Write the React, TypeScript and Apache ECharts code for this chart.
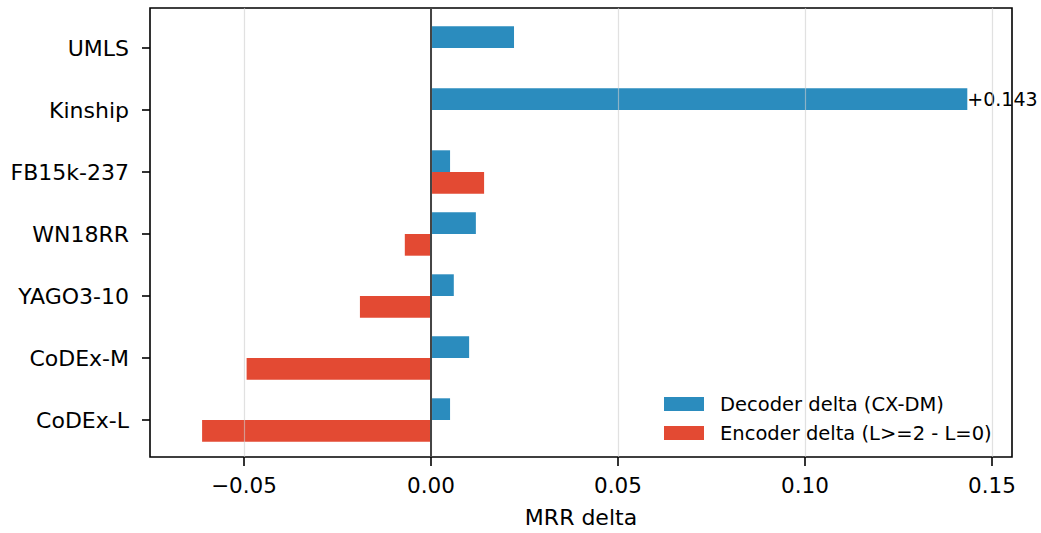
import { useEffect, useRef } from 'react';
import * as echarts from 'echarts';

const categories = ['UMLS', 'Kinship', 'FB15k-237', 'WN18RR', 'YAGO3-10', 'CoDEx-M', 'CoDEx-L'];
const decoderDelta = [0.0222, 0.1434, 0.0051, 0.012, 0.0061, 0.0102, 0.0051];
const encoderDelta = [null, null, 0.0142, -0.007, -0.019, -0.0493, -0.0612];
const xTicks = [-0.05, 0, 0.05, 0.1, 0.15];
const xMin = -0.07513;
const xMax = 0.15535;
const labelledCategory = 'Kinship';

const FONT = 'DejaVu Sans';
const BLUE = '#2b8cbe';
const RED = '#e34a33';

const fmt = (v: number) => {
  const s = Math.abs(v).toFixed(2);
  return v < -1e-9 ? '\u2212' + s : s;
};

export default function App() {
  const ref = useRef<HTMLDivElement>(null);
  useEffect(() => {
    if (!ref.current) return;
    const chart = echarts.init(ref.current, null, { renderer: 'svg' });
    const L = 150, W = 862;
    chart.setOption({
      animation: false,
      textStyle: { fontFamily: FONT },
      grid: [
        { left: L, top: 17, width: W, height: 434, containLabel: false },
        { left: L, top: 8, width: W, height: 453, show: true, borderColor: '#000', borderWidth: 1.6, backgroundColor: 'transparent', z: 5 },
      ],
      xAxis: [
        { type: 'value', gridIndex: 0, min: xMin, max: xMax, show: false },
        {
          type: 'value', gridIndex: 1, min: xMin, max: xMax, z: 10,
          axisLine: { show: false, onZero: false },
          axisTick: { show: true, length: 9, customValues: xTicks, lineStyle: { color: '#000', width: 1.6 } },
          axisLabel: { customValues: xTicks, formatter: (v: number) => fmt(v), fontSize: 21.5, color: '#000', margin: 17, fontFamily: FONT },
          splitLine: { show: false },
          name: 'MRR delta', nameLocation: 'middle', nameGap: 49,
          nameTextStyle: { fontSize: 22, color: '#000', fontFamily: FONT },
        },
      ],
      yAxis: [
        {
          type: 'category', gridIndex: 0, data: categories, inverse: true, position: 'left',
          axisLine: { show: false, onZero: false },
          axisTick: { show: true, alignWithLabel: true, length: 8, lineStyle: { color: '#000', width: 1.6 } },
          axisLabel: { fontSize: 22, color: '#000', margin: 21, fontFamily: FONT },
          splitLine: { show: false },
        },
        { type: 'value', gridIndex: 1, min: 0, max: 1, show: false },
      ],
      legend: {
        orient: 'vertical', left: 664, top: 394, padding: 0, itemGap: 9,
        itemWidth: 40, itemHeight: 14, icon: 'rect',
        textStyle: { fontSize: 19.5, color: '#000', fontFamily: FONT, padding: [0, 0, 0, 11], lineHeight: 20 },
        data: ['Decoder delta (CX-DM)', 'Encoder delta (L>=2 - L=0)'],
      },
      series: [
        {
          name: 'Decoder delta (CX-DM)', type: 'bar', xAxisIndex: 0, yAxisIndex: 0,
          barWidth: 21.7, barGap: '0%', itemStyle: { color: BLUE },
          data: decoderDelta.map((v, i) => categories[i] === labelledCategory
            ? { value: v, label: { show: true, position: 'right', distance: 0, formatter: '+' + v.toFixed(3), fontSize: 19, color: '#000', fontFamily: FONT } }
            : v),
        },
        {
          name: 'Encoder delta (L>=2 - L=0)', type: 'bar', xAxisIndex: 0, yAxisIndex: 0,
          barWidth: 21.7, barGap: '0%', itemStyle: { color: RED },
          data: encoderDelta.map((v) => (v === null ? '-' : v)),
        },
        {
          type: 'line', xAxisIndex: 1, yAxisIndex: 1, data: [[0, 0.5]], symbol: 'none',
          lineStyle: { opacity: 0 }, silent: true, z: 8,
          markLine: {
            silent: true, symbol: 'none', label: { show: false },
            data: [
              ...xTicks.map((t) => ({ xAxis: t, lineStyle: { color: 'rgba(205,205,205,0.6)', width: 1.2, type: 'solid' } })),
              { xAxis: 0, lineStyle: { color: '#444', width: 2, type: 'solid' } },
            ],
          },
        },
      ],
    });
    return () => chart.dispose();
  }, []);
  return <div ref={ref} style={{ width: 1041, height: 533, position: 'absolute', left: 0, top: 0 }} />;
}
